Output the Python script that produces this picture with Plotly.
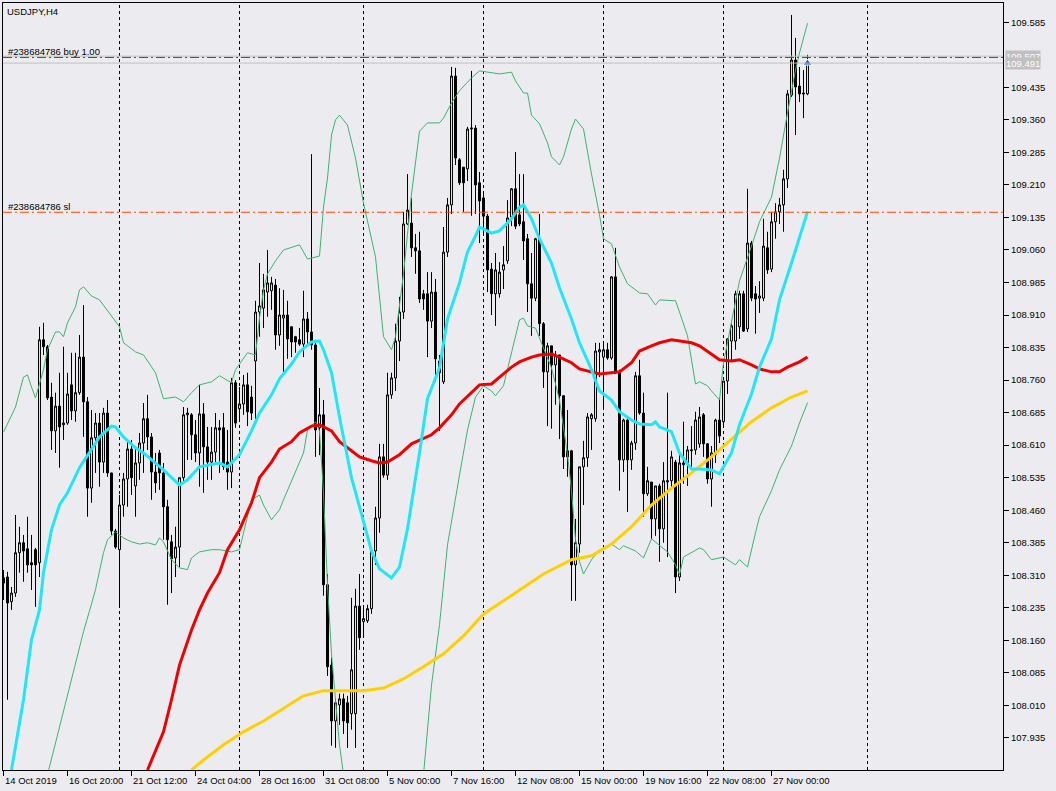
import plotly.graph_objects as go

# ---------------- data ----------------
opens = [108.304,108.306,108.249,108.269,108.362,108.385,108.371,108.339,108.369,108.339,
108.853,108.837,108.721,108.643,108.700,108.657,108.661,108.749,108.689,108.731,
108.813,108.710,108.511,108.627,108.661,108.571,108.684,108.546,108.412,108.369,
108.472,108.532,108.601,108.516,108.569,108.615,108.671,108.629,108.548,108.592,
108.546,108.468,108.387,108.350,108.375,108.535,108.680,108.680,108.634,108.592,
108.682,108.606,108.571,108.594,108.650,108.650,108.571,108.548,108.754,108.694,
108.705,108.749,108.721,108.804,108.917,108.926,108.963,108.966,108.979,108.864,
108.903,108.910,108.883,108.860,108.853,108.843,108.901,108.871,108.841,108.650,
108.680,108.288,108.103,107.974,108.011,108.025,108.016,107.991,107.991,108.239,
108.203,108.205,108.233,108.366,108.442,108.583,108.541,108.726,108.765,108.850,
108.917,109.120,109.122,109.065,109.058,108.959,108.959,108.896,108.963,108.804,
108.756,109.055,109.164,109.461,109.268,109.251,109.247,109.339,109.341,109.215,
109.180,109.138,109.016,108.959,108.959,109.014,109.035,109.136,109.201,109.141,
109.125,109.086,108.982,108.949,109.086,108.890,108.779,108.839,108.795,108.818,
108.724,108.597,108.597,108.334,108.382,108.560,108.581,108.671,108.671,108.825,
108.813,108.830,108.811,108.998,108.779,108.576,108.668,108.576,108.615,108.770,
108.684,108.498,108.525,108.440,108.516,108.417,108.525,108.528,108.571,108.306,
108.565,108.569,108.597,108.599,108.613,108.680,108.613,108.532,108.588,108.668,
108.664,108.758,108.850,108.850,108.883,108.959,108.878,109.076,108.959,108.949,
108.949,109.065,109.016,109.125,109.148,109.164,109.224,109.417,109.498,109.438,
109.422,109.420]
highs = [108.322,108.318,108.283,108.449,108.422,108.403,108.445,108.403,108.373,108.883,
108.892,108.841,108.754,108.731,108.777,108.837,108.777,108.823,108.823,108.864,
108.933,108.721,108.691,108.684,108.684,108.696,108.714,108.546,108.417,108.495,
108.546,108.622,108.622,108.606,108.638,108.707,108.726,108.638,108.592,108.599,
108.569,108.484,108.403,108.422,108.535,108.698,108.696,108.684,108.668,108.749,
108.707,108.652,108.652,108.684,108.668,108.684,108.645,108.765,108.760,108.744,
108.772,108.777,108.747,108.943,109.030,109.005,109.060,108.998,108.993,108.972,
108.968,108.943,108.883,108.862,108.880,108.966,108.917,109.281,108.853,108.742,
108.714,108.313,108.120,108.025,108.037,108.037,108.032,108.258,108.279,108.313,
108.235,108.242,108.375,108.468,108.613,108.613,108.777,108.777,108.890,108.952,
109.148,109.235,109.180,109.097,109.102,108.968,109.009,109.009,108.993,108.818,
109.113,109.180,109.482,109.480,109.272,109.251,109.344,109.473,109.348,109.240,
109.189,109.143,109.030,109.053,109.032,109.069,109.175,109.203,109.286,109.235,
109.235,109.097,109.053,109.088,109.143,108.894,108.846,108.839,108.827,108.818,
108.724,108.691,108.599,108.440,108.560,108.620,108.684,108.684,108.846,108.846,
108.846,108.846,109.000,109.065,108.784,108.671,108.675,108.620,108.779,108.807,
108.731,108.560,108.525,108.516,108.521,108.571,108.731,108.597,108.576,108.592,
108.664,108.608,108.654,108.687,108.698,108.684,108.615,108.608,108.671,108.719,
108.758,108.857,108.890,108.966,108.966,108.966,109.201,109.081,108.977,108.988,
109.132,109.102,109.148,109.168,109.180,109.245,109.429,109.602,109.549,109.482,
109.475,109.510]
lows = [108.253,108.023,108.230,108.260,108.316,108.295,108.316,108.276,108.237,108.306,
108.818,108.714,108.599,108.592,108.558,108.622,108.657,108.668,108.664,108.726,
108.629,108.445,108.477,108.546,108.514,108.546,108.537,108.403,108.371,108.237,
108.445,108.468,108.495,108.445,108.530,108.546,108.599,108.484,108.500,108.507,
108.392,108.242,108.269,108.306,108.329,108.523,108.576,108.576,108.571,108.514,
108.500,108.530,108.530,108.571,108.546,108.553,108.507,108.511,108.650,108.668,
108.680,108.654,108.668,108.659,108.860,108.880,108.906,108.922,108.830,108.839,
108.772,108.809,108.813,108.823,108.839,108.813,108.839,108.830,108.583,108.587,
108.263,108.078,107.917,107.912,107.965,107.944,107.912,107.954,107.912,108.138,
108.170,108.200,108.221,108.334,108.408,108.535,108.530,108.717,108.735,108.804,
108.901,109.118,109.044,109.005,108.938,108.922,108.813,108.880,108.756,108.643,
108.751,109.044,109.143,109.256,109.210,109.148,109.219,109.139,109.143,109.076,
109.097,108.963,108.910,108.885,108.950,108.970,109.028,109.115,109.108,109.115,
109.037,108.917,108.862,108.942,108.862,108.742,108.654,108.648,108.703,108.624,
108.555,108.537,108.251,108.251,108.362,108.472,108.560,108.599,108.664,108.767,
108.696,108.807,108.807,108.774,108.505,108.548,108.456,108.553,108.599,108.680,
108.445,108.493,108.394,108.401,108.341,108.385,108.352,108.512,108.269,108.297,
108.521,108.516,108.553,108.588,108.604,108.583,108.521,108.468,108.569,108.615,
108.654,108.728,108.802,108.830,108.855,108.871,108.871,108.942,108.867,108.915,
108.942,109.005,109.009,109.086,109.120,109.102,109.203,109.413,109.325,109.401,
109.364,109.417]
closes = [108.292,108.246,108.269,108.362,108.385,108.366,108.334,108.334,108.334,108.853,
108.837,108.719,108.643,108.700,108.652,108.661,108.728,108.689,108.731,108.813,
108.710,108.511,108.627,108.661,108.571,108.684,108.546,108.412,108.375,108.472,
108.532,108.601,108.535,108.569,108.615,108.671,108.629,108.548,108.523,108.546,
108.468,108.392,108.348,108.375,108.535,108.680,108.684,108.634,108.592,108.682,
108.606,108.571,108.594,108.650,108.645,108.560,108.548,108.754,108.661,108.705,
108.749,108.687,108.684,108.917,108.931,108.968,108.984,108.984,108.864,108.910,
108.910,108.855,108.848,108.848,108.843,108.901,108.871,108.841,108.645,108.680,
108.288,108.099,107.974,108.016,108.025,107.974,107.970,108.092,108.239,108.166,
108.210,108.233,108.366,108.442,108.583,108.541,108.726,108.765,108.850,108.917,
109.120,109.152,109.065,109.058,108.947,108.947,108.896,108.963,108.809,108.777,
109.055,109.164,109.461,109.272,109.215,109.215,109.339,109.341,109.210,109.173,
109.138,109.014,108.959,109.014,109.009,109.026,109.134,109.201,109.115,109.120,
109.081,108.982,108.949,109.086,108.890,108.779,108.839,108.795,108.818,108.724,
108.583,108.583,108.334,108.385,108.560,108.581,108.675,108.680,108.827,108.830,
108.830,108.811,108.998,108.779,108.576,108.668,108.576,108.615,108.770,108.684,
108.498,108.528,108.440,108.516,108.417,108.528,108.528,108.583,108.306,108.569,
108.569,108.599,108.599,108.668,108.675,108.613,108.532,108.592,108.668,108.631,
108.758,108.855,108.885,108.959,108.959,108.873,109.076,108.949,108.947,108.954,
109.069,109.014,109.125,109.148,109.164,109.224,109.420,109.498,109.436,109.420,
109.420,109.491]
bars = list(range(len(closes)))

# Bollinger middle (cyan)
bb_mid_idx = [2,5,7,9,10,12,14,16,19,22,24,27,28,30,33,35,40,44,46,49,54,56,59,62,64,67,69,72,74,77,79,80,82,84,87,89,92,94,97,99,101,104,106,109,111,114,116,118,119,122,124,127,129,130,132,134,137,139,142,144,147,149,152,154,157,159,162,163,164,167,169,172,174,177,179,182,184,187,189,192,194,197,199,201]
bb_mid = [107.861,108.023,108.161,108.230,108.316,108.415,108.472,108.500,108.558,108.599,108.629,108.654,108.652,108.629,108.604,108.592,108.553,108.518,108.530,108.560,108.569,108.560,108.588,108.643,108.684,108.726,108.763,108.797,108.825,108.848,108.850,108.830,108.777,108.675,108.535,108.468,108.366,108.325,108.304,108.329,108.417,108.592,108.717,108.788,108.901,108.984,109.056,109.092,109.113,109.099,109.104,109.132,109.159,109.164,109.132,109.086,109.030,108.973,108.901,108.846,108.784,108.735,108.714,108.687,108.668,108.659,108.657,108.664,108.652,108.641,108.592,108.555,108.555,108.553,108.544,108.592,108.657,108.728,108.790,108.855,108.945,109.030,109.092,109.148]

# Bollinger upper (green)
bb_up_idx = [0,3,5,6,7,8,10,11,13,14,15,16,18,19,20,22,24,27,29,30,33,35,38,40,43,45,47,49,52,54,57,58,61,63,64,65,66,68,70,74,75,76,79,80,81,82,83,84,86,88,90,93,95,97,98,100,102,104,106,109,110,112,114,117,119,122,124,127,128,130,131,132,134,136,137,139,140,142,143,145,147,149,150,152,154,156,159,161,163,164,168,169,171,173,174,176,177,179,180,182,184,187,189,192,194,196,198,199,201]
bb_up = [108.640,108.698,108.767,108.772,108.744,108.719,108.784,108.830,108.871,108.871,108.860,108.892,108.929,108.968,108.975,108.954,108.945,108.906,108.883,108.846,108.825,108.818,108.777,108.717,108.721,108.710,108.731,108.749,108.756,108.770,108.754,108.784,108.823,108.818,108.903,108.968,109.005,109.035,109.060,109.072,109.056,109.039,109.046,109.159,109.226,109.325,109.360,109.371,109.348,109.272,109.168,109.044,108.860,108.830,108.860,109.005,109.189,109.334,109.353,109.353,109.364,109.399,109.427,109.457,109.473,109.468,109.466,109.470,109.450,109.422,109.422,109.371,109.351,109.307,109.275,109.256,109.275,109.339,109.362,109.339,109.235,109.141,109.086,109.074,109.021,108.982,108.961,108.959,108.933,108.945,108.943,108.917,108.862,108.751,108.756,108.747,108.735,108.714,108.800,108.894,108.989,109.069,109.125,109.182,109.272,109.376,109.475,109.514,109.583]

# Bollinger lower (green); None = below the visible price range
bb_lo_idx = [11,15,17,20,22,23,25,26,28,30,32,34,36,38,39,40,42,44,46,47,49,52,54,57,59,61,62,64,65,67,69,70,73,75,76,78,79,80,81,82,83,84,85,95,105,107,109,111,114,116,118,120,122,123,125,127,129,130,131,133,135,137,139,140,141,142,143,144,145,147,149,150,152,154,155,158,160,162,164,166,168,169,170,172,174,175,177,180,183,184,186,188,189,192,194,197,199,201]
bb_lo = [107.850,107.995,108.069,108.180,108.244,108.277,108.362,108.392,108.410,108.396,108.387,108.382,108.385,108.380,108.396,108.387,108.346,108.327,108.323,108.350,108.364,108.369,108.369,108.364,108.369,108.442,108.484,108.495,108.472,108.438,108.461,108.484,108.548,108.592,108.645,108.664,108.643,108.500,108.288,108.129,108.023,107.919,107.850,None,107.850,108.057,108.196,108.380,108.541,108.645,108.721,108.747,108.735,108.724,108.747,108.823,108.899,108.903,108.885,108.880,108.834,108.788,108.714,108.648,108.588,108.505,108.392,108.341,108.313,108.346,108.369,108.369,108.382,108.369,108.378,108.366,108.350,108.394,108.378,108.364,108.334,108.311,108.352,108.362,108.373,108.369,108.346,108.352,108.334,108.346,108.329,108.408,108.445,108.505,108.553,108.608,108.661,108.708]

# Moving average (red)
ma_red_idx = [36,40,42,44,47,49,51,54,56,59,62,64,67,69,72,74,77,79,82,84,87,89,92,94,96,99,102,104,107,109,112,114,117,119,122,124,127,129,132,134,137,139,142,144,147,149,152,154,157,159,162,164,167,169,172,174,177,179,182,184,187,189,192,194,196,199,201]
ma_red = [107.861,107.949,108.023,108.103,108.184,108.230,108.269,108.316,108.369,108.415,108.477,108.535,108.571,108.601,108.618,108.638,108.654,108.657,108.643,108.618,108.597,108.583,108.574,108.569,108.571,108.588,108.613,108.622,108.634,108.650,108.680,108.705,108.731,108.749,108.751,108.767,108.790,108.802,108.813,108.818,108.820,108.813,108.800,108.786,108.779,108.774,108.777,108.779,108.800,108.827,108.839,108.846,108.853,108.850,108.846,108.839,108.820,108.807,108.804,108.807,108.795,108.786,108.779,108.779,108.790,108.802,108.813]

# Moving average (gold)
ma_gold_idx = [47,50,55,60,65,70,75,80,85,90,95,100,105,110,115,120,125,130,135,142,147,152,157,162,167,172,177,182,187,192,197,201]
ma_gold = [107.861,107.884,107.919,107.949,107.974,108.004,108.032,108.044,108.044,108.044,108.050,108.071,108.099,108.129,108.170,108.221,108.251,108.281,108.313,108.346,108.355,108.382,108.422,108.472,108.511,108.546,108.583,108.624,108.664,108.696,108.721,108.735]

date_idx = [0,16,32,48,64,80,96,112,128,144,160,176,192]
date_labels = ["14 Oct 2019","16 Oct 20:00","21 Oct 12:00","24 Oct 04:00","28 Oct 16:00",
               "31 Oct 08:00","5 Nov 00:00","7 Nov 16:00","12 Nov 08:00","15 Nov 00:00",
               "19 Nov 16:00","22 Nov 08:00","27 Nov 00:00"]
week_idx = [29, 59, 90, 120, 150, 180, 216]

price_ticks = ["107.935","108.010","108.085","108.160","108.235","108.310","108.385","108.460",
               "108.535","108.610","108.685","108.760","108.835","108.910","108.985","109.060",
               "109.135","109.210","109.285","109.360","109.435","109.510","109.585"]
shown_ticks = [t for t in price_ticks if t != "109.510"]

symbol = "USDJPY,H4"
order_label = "#238684786 buy 1.00"
sl_label = "#238684786 sl"
order_price = 109.504
sl_price = 109.147
ask_price = 109.507
bid_price = 109.491
last_bar = 201

# ---------------- style ----------------
BG = "#ECECF0"
FONT = "Liberation Sans, Arial, sans-serif"
FS = 9.5

fig = go.Figure()

fig.add_trace(go.Candlestick(
    x=bars, open=opens, high=highs, low=lows, close=closes,
    increasing=dict(line=dict(color="black", width=1), fillcolor=BG),
    decreasing=dict(line=dict(color="black", width=1), fillcolor="black"),
    whiskerwidth=0, hoverinfo="skip", showlegend=False))

def line(idx, vals, color, width):
    fig.add_trace(go.Scatter(x=idx, y=vals, mode="lines",
                             line=dict(color=color, width=width),
                             connectgaps=False, hoverinfo="skip", showlegend=False))

line(bb_up_idx, bb_up, "#3CB371", 1)
line(bb_lo_idx, bb_lo, "#3CB371", 1)
line(ma_gold_idx, ma_gold, "#FFD000", 3)
line(ma_red_idx, ma_red, "#F00000", 3)
line(bb_mid_idx, bb_mid, "#1EE8F8", 3)

# buy arrow at last bar
fig.add_trace(go.Scatter(x=[last_bar], y=[bid_price], mode="markers",
                         marker=dict(symbol="triangle-up", size=8, color="#1F5FAF",
                                     line=dict(color="white", width=1)),
                         hoverinfo="skip", showlegend=False))

shapes = []
for w in week_idx:
    shapes.append(dict(type="line", xref="x", yref="paper", x0=w, x1=w, y0=0, y1=1,
                       line=dict(color="black", width=1, dash="3px,3px"), layer="below"))
for p in (ask_price, bid_price):
    shapes.append(dict(type="line", xref="paper", yref="y", x0=0, x1=1, y0=p, y1=p,
                       line=dict(color="#C0C0C0", width=1), layer="above"))
shapes.append(dict(type="line", xref="paper", yref="y", x0=0, x1=1, y0=order_price, y1=order_price,
                   line=dict(color="#007A00", width=1, dash="9px,3px,2px,3px"), layer="above"))
shapes.append(dict(type="line", xref="paper", yref="y", x0=0, x1=1, y0=sl_price, y1=sl_price,
                   line=dict(color="#FF4500", width=1, dash="9px,3px,2px,3px"), layer="above"))

annotations = []
for i, lab in zip(date_idx, date_labels):
    annotations.append(dict(x=i, y=0, xref="x", yref="paper", text=lab, showarrow=False,
                            xanchor="left", yanchor="top", yshift=-3, xshift=-1,
                            font=dict(family=FONT, size=FS, color="black")))
annotations.append(dict(x=0, y=1, xref="paper", yref="paper", text=symbol, showarrow=False,
                        xanchor="left", yanchor="top", xshift=2, yshift=-1,
                        font=dict(family=FONT, size=FS, color="black")))
annotations.append(dict(x=0, y=order_price, xref="paper", yref="y", text=order_label,
                        showarrow=False, xanchor="left", yanchor="bottom", xshift=3, yshift=-2,
                        font=dict(family=FONT, size=FS, color="black")))
annotations.append(dict(x=0, y=sl_price, xref="paper", yref="y", text=sl_label,
                        showarrow=False, xanchor="left", yanchor="bottom", xshift=3, yshift=-2,
                        font=dict(family=FONT, size=FS, color="black")))
for p in (ask_price, bid_price):
    annotations.append(dict(x=1, y=p, xref="paper", yref="y", text=f"{p:.3f}",
                            showarrow=False, xanchor="left", yanchor="middle", xshift=2,
                            bgcolor="#C0C0C0", borderpad=0,
                            font=dict(family=FONT, size=FS, color="white")))

fig.update_layout(
    width=1056, height=791,
    margin=dict(l=3, r=53, t=3, b=21),
    paper_bgcolor=BG, plot_bgcolor=BG,
    shapes=shapes, annotations=annotations,
    showlegend=False,
    xaxis=dict(range=[-0.125, 249.875], rangeslider=dict(visible=False), showgrid=False, zeroline=False,
               showline=True, mirror=True, linecolor="black", linewidth=1,
               tickmode="array", tickvals=date_idx, showticklabels=False,
               ticks="outside", ticklen=5, tickcolor="black", tickwidth=1, fixedrange=True),
    yaxis=dict(side="right", range=[107.861, 109.6295], showgrid=False, zeroline=False,
               showline=True, mirror=True, linecolor="black", linewidth=1,
               tickmode="array", tickvals=[float(t) for t in shown_ticks], ticktext=shown_ticks,
               ticks="outside", ticklen=5, tickcolor="black", tickwidth=1,
               tickfont=dict(family=FONT, size=FS, color="black"), fixedrange=True),
)

fig.write_html("out.html", config={"displayModeBar": False},
               post_script="document.body.style.margin='0';document.body.style.background='#ECECF0';")
